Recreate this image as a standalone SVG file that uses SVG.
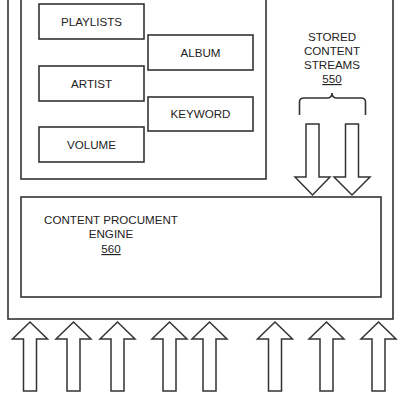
<svg xmlns="http://www.w3.org/2000/svg" width="400" height="400" viewBox="0 0 400 400">
<defs>
<style>
.box{fill:#fff;stroke:#333;stroke-width:1.6}
.frame{fill:none;stroke:#333;stroke-width:1.6}
.arr{fill:#fff;stroke:#333;stroke-width:1.5;stroke-linejoin:miter}
text{font-family:"Liberation Sans",Arial,sans-serif;font-size:11.6px;fill:#222;text-anchor:middle}
.u{text-decoration:underline}
</style>
<path id="up" class="arr" d="M0,0 L17.5,17 L6.5,17 L6.5,69 L-6.5,69 L-6.5,17 L-17.5,17 Z"/>
</defs>
<rect width="400" height="400" fill="#fff"/>
<g id="outer"><rect class="frame" x="8" y="-10" width="385" height="329"/></g>
<g id="criteria"><rect class="frame" x="21" y="-10" width="245" height="189"/></g>
<g id="playlists"><rect class="box" x="39" y="4" width="105" height="35"/><text x="91.5" y="26">PLAYLISTS</text></g>
<g id="album"><rect class="box" x="148" y="35" width="105" height="35"/><text x="200.5" y="56.5">ALBUM</text></g>
<g id="artist"><rect class="box" x="39" y="66" width="105" height="35"/><text x="91.5" y="87.5">ARTIST</text></g>
<g id="keyword"><rect class="box" x="148" y="97" width="105" height="34"/><text x="200.5" y="118">KEYWORD</text></g>
<g id="volume"><rect class="box" x="39" y="127" width="105" height="35"/><text x="91.5" y="148.5">VOLUME</text></g>
<g id="streams">
<text x="332" y="41">STORED</text>
<text x="332" y="55">CONTENT</text>
<text x="332" y="69">STREAMS</text>
<text x="332" y="83" class="u">550</text>
<path class="frame" d="M299.5,115 L299.5,102 Q299.5,98 304,98 L327,98 Q332,98 332,93 Q332,98 337,98 L361,98 Q365.5,98 365.5,102 L365.5,115"/>
</g>
<g id="engine"><rect class="box" x="21" y="197" width="360" height="100"/>
<text x="111" y="224">CONTENT PROCUMENT</text>
<text x="111" y="238">ENGINE</text>
<text x="111" y="253" class="u">560</text></g>
<g id="connectors">
<path class="arr" d="M306,124 L319,124 L319,177 L330,177 L312.5,195 L295,177 L306,177 Z"/>
<path class="arr" d="M345.5,124 L358.5,124 L358.5,177 L370,177 L352,195 L334,177 L345.5,177 Z"/>
<use href="#up" x="30" y="322"/>
<use href="#up" x="73.5" y="322"/>
<use href="#up" x="117.5" y="322"/>
<use href="#up" x="169.5" y="322"/>
<use href="#up" x="209.5" y="322"/>
<use href="#up" x="275" y="322"/>
<use href="#up" x="326.5" y="322"/>
<use href="#up" x="378.5" y="322"/>
</g>
</svg>
